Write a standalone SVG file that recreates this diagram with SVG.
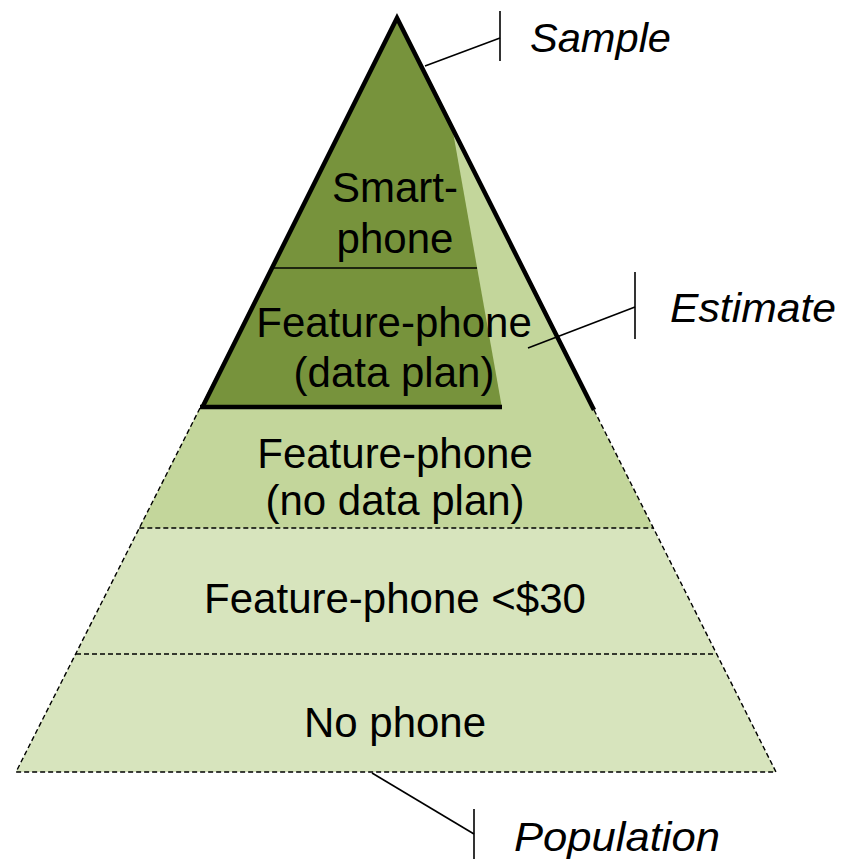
<svg xmlns="http://www.w3.org/2000/svg" width="844" height="859" viewBox="0 0 844 859">
<style>
.lbl{font-family:"Liberation Sans",Arial,sans-serif;font-size:42px;fill:#000;text-anchor:middle}
.cal{font-family:"Liberation Sans",Arial,sans-serif;font-size:40px;font-style:italic;fill:#000}
.thick{stroke:#000;stroke-width:4.5;fill:none;stroke-linejoin:miter}
.dash{stroke:#000;stroke-width:1.4;stroke-dasharray:5,3;fill:none}
.thin{stroke:#000;stroke-width:1.6;fill:none}
</style>
<rect width="844" height="859" fill="#fff"/>
<g id="layer-lower">
<polygon points="139.3,528 653,528 776,772 16,772" fill="#D7E4BD"/>
</g>
<g id="layer-estimate">
<polygon points="397,18 653,528 139.3,528" fill="#C3D69B"/>
</g>
<g id="layer-sample">
<polygon points="397,18 452.3,128 502,408 200,408" fill="#77933C"/>
</g>
<g id="outline">
<polyline class="dash" points="200,408 16,772 776,772 593,408"/>
<line class="dash" x1="139.3" y1="528" x2="653" y2="528"/>
<line class="dash" x1="76" y1="654" x2="716.7" y2="654"/>
<line class="thin" x1="271" y1="268" x2="477" y2="268"/>
<polyline class="thick" points="202,408 397,18 594,410"/>
<line class="thick" x1="200" y1="407" x2="502" y2="407"/>
</g>
<g id="labels">
<text class="lbl" x="395" y="202">Smart-</text>
<text class="lbl" x="395" y="253">phone</text>
<text class="lbl" x="394" y="337">Feature-phone</text>
<text class="lbl" x="394" y="387">(data plan)</text>
<text class="lbl" x="395" y="468">Feature-phone</text>
<text class="lbl" x="395" y="515">(no data plan)</text>
<text class="lbl" x="395" y="613">Feature-phone &lt;$30</text>
<text class="lbl" x="395" y="737">No phone</text>
</g>
<g id="connectors">
<line class="thin" x1="425" y1="66" x2="500" y2="38"/>
<line class="thin" x1="500" y1="11" x2="500" y2="61"/>
<line class="thin" x1="528" y1="348" x2="635" y2="307"/>
<line class="thin" x1="635" y1="272" x2="635" y2="339"/>
<line class="thin" x1="372" y1="773" x2="474" y2="834"/>
<line class="thin" x1="474" y1="809" x2="474" y2="859"/>
</g>
<g id="callouts">
<text class="cal" x="530" y="52" textLength="141" lengthAdjust="spacingAndGlyphs">Sample</text>
<text class="cal" x="670" y="322" textLength="166" lengthAdjust="spacingAndGlyphs">Estimate</text>
<text class="cal" x="514" y="851" textLength="206" lengthAdjust="spacingAndGlyphs">Population</text>
</g>
</svg>
